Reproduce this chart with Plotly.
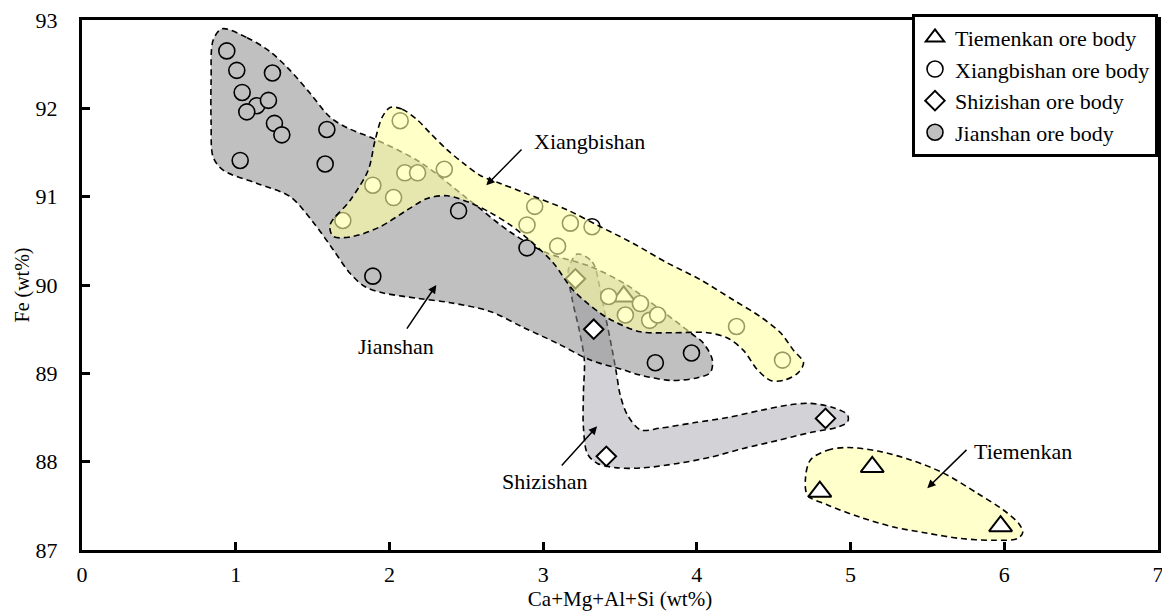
import plotly.graph_objects as go

# ---------------- data ----------------
tiemenkan_x = [3.524, 5.141, 4.800, 5.976]
tiemenkan_y = [89.87, 87.94, 87.66, 87.27]

xiangbishan_x = [2.070, 1.892, 2.027, 1.697, 2.100, 2.183, 2.357, 2.945, 2.895, 3.177,
                 3.318, 3.094, 3.426, 3.633, 3.535, 3.693, 3.745, 4.258, 4.557]
xiangbishan_y = [91.86, 91.13, 90.99, 90.73, 91.27, 91.27, 91.31, 90.89, 90.68, 90.70,
                 90.66, 90.44, 89.87, 89.79, 89.66, 89.60, 89.66, 89.53, 89.15]

shizishan_x = [3.210, 3.329, 4.837, 3.411]
shizishan_y = [90.07, 89.50, 88.49, 88.06]

jianshan_x = [0.942, 1.007, 1.239, 1.042, 1.137, 1.213, 1.072, 1.252, 1.300, 1.593,
              1.029, 1.582, 2.450, 1.892, 2.895, 3.730, 3.965]
jianshan_y = [92.65, 92.43, 92.40, 92.18, 92.03, 92.09, 91.96, 91.83, 91.70, 91.76,
              91.41, 91.37, 90.84, 90.10, 90.42, 89.12, 89.23]

# field outlines (data coordinates)
jianshan_field_x = [0.911, 1.074, 1.224, 1.354, 1.484, 1.614, 1.725, 1.907, 2.200, 2.506,
                    2.786, 3.014, 3.307, 3.535, 3.763, 3.958, 4.043, 4.101, 4.088, 4.004,
                    3.828, 3.633, 3.522, 3.307, 3.092, 2.871, 2.656, 2.396, 2.181, 1.960,
                    1.842, 1.745, 1.634, 1.504, 1.354, 1.139, 0.918, 0.853, 0.840, 0.840,
                    0.853]
jianshan_field_y = [92.90, 92.80, 92.64, 92.43, 92.17, 91.90, 91.78, 91.65, 91.39, 90.98,
                    90.60, 90.37, 90.21, 90.01, 89.72, 89.46, 89.34, 89.15, 89.01, 88.95,
                    88.92, 88.98, 89.04, 89.15, 89.34, 89.52, 89.70, 89.80, 89.85, 89.91,
                    89.98, 90.13, 90.40, 90.71, 91.00, 91.15, 91.30, 91.45, 91.83, 92.32,
                    92.77]

xiangbishan_field_x = [2.005, 2.083, 2.181, 2.265, 2.376, 2.480, 2.591, 2.721, 2.884, 3.157,
                       3.372, 3.587, 3.808, 4.023, 4.238, 4.414, 4.544, 4.629, 4.694, 4.655,
                       4.564, 4.479, 4.394, 4.303, 4.199, 4.069, 3.847, 3.633, 3.470, 3.372,
                       3.196, 3.066, 2.936, 2.786, 2.656, 2.526, 2.376, 2.246, 2.116, 1.940,
                       1.764, 1.634, 1.614, 1.745, 1.862, 1.907, 1.953]
xiangbishan_field_y = [92.01, 91.99, 91.87, 91.72, 91.53, 91.38, 91.24, 91.15, 91.04, 90.85,
                       90.66, 90.47, 90.25, 90.06, 89.83, 89.64, 89.46, 89.26, 89.12, 89.00,
                       88.92, 88.92, 89.04, 89.26, 89.40, 89.46, 89.46, 89.47, 89.58, 89.68,
                       89.94, 90.25, 90.47, 90.68, 90.82, 90.93, 91.01, 90.98, 90.85, 90.66,
                       90.55, 90.55, 90.68, 90.96, 91.30, 91.64, 91.90]

shizishan_field_x = [3.222, 3.320, 3.372, 3.411, 3.450, 3.476, 3.502, 3.548, 3.633, 3.763,
                     3.978, 4.199, 4.414, 4.590, 4.739, 4.889, 4.980, 4.980, 4.915, 4.739,
                     4.525, 4.303, 4.088, 3.874, 3.652, 3.483, 3.353, 3.288, 3.262, 3.262,
                     3.268, 3.236, 3.190, 3.164]
shizishan_field_y = [90.35, 90.26, 89.94, 89.60, 89.26, 89.01, 88.75, 88.53, 88.36, 88.38,
                     88.44, 88.50, 88.58, 88.64, 88.66, 88.61, 88.53, 88.45, 88.39, 88.33,
                     88.24, 88.15, 88.05, 87.98, 87.93, 87.93, 87.98, 88.09, 88.39, 88.78,
                     89.15, 89.48, 89.83, 90.17]

tiemenkan_field_x = [4.739, 4.850, 4.980, 5.176, 5.391, 5.605, 5.827, 5.996, 6.094, 6.120,
                     6.087, 5.931, 5.716, 5.501, 5.280, 5.065, 4.850, 4.720, 4.707]
tiemenkan_field_y = [88.02, 88.13, 88.16, 88.12, 88.02, 87.87, 87.64, 87.45, 87.30, 87.20,
                     87.13, 87.11, 87.13, 87.19, 87.26, 87.37, 87.51, 87.62, 87.82]

legend_names = ["Tiemenkan ore body", "Xiangbishan ore body",
                "Shizishan ore body", "Jianshan ore body"]

# labels: (text, text_x, text_y, tail_x, tail_y, tip_x, tip_y)
labels = [
    ("Xiangbishan", 3.30, 91.62, 2.869, 91.55, 2.630, 91.13),
    ("Jianshan", 2.044, 89.30, 2.107, 89.49, 2.305, 90.00),
    ("Shizishan", 3.014, 87.77, 3.112, 87.94, 3.351, 88.40),
    ("Tiemenkan", 6.120, 88.11, 5.764, 88.15, 5.499, 87.70),
]

SERIF = "Liberation Serif, Times New Roman, serif"
DASH = "6px,4px"

fig = go.Figure()


def field(xs, ys, fill):
    fig.add_trace(go.Scatter(
        x=xs + xs[:1], y=ys + ys[:1], mode="lines",
        line=dict(color="black", width=1.6, dash=DASH, shape="spline", smoothing=0.9),
        fill="toself", fillcolor=fill, showlegend=False, hoverinfo="skip"))


field(shizishan_field_x, shizishan_field_y, "rgb(211,211,215)")
field(jianshan_field_x, jianshan_field_y, "rgba(140,140,140,0.55)")
field(tiemenkan_field_x, tiemenkan_field_y, "rgb(255,255,204)")

fig.add_trace(go.Scatter(
    x=tiemenkan_x, y=tiemenkan_y, mode="markers", name=legend_names[0],
    marker=dict(symbol="triangle-up", size=20, color="white",
                line=dict(color="black", width=2))))
fig.add_trace(go.Scatter(
    x=xiangbishan_x, y=xiangbishan_y, mode="markers", name=legend_names[1],
    marker=dict(symbol="circle", size=16, color="white",
                line=dict(color="black", width=1.6))))
fig.add_trace(go.Scatter(
    x=shizishan_x, y=shizishan_y, mode="markers", name=legend_names[2],
    marker=dict(symbol="diamond", size=15, color="white",
                line=dict(color="black", width=2))))
fig.add_trace(go.Scatter(
    x=jianshan_x, y=jianshan_y, mode="markers", name=legend_names[3],
    marker=dict(symbol="circle", size=16, color="rgb(192,192,192)",
                line=dict(color="black", width=1.6))))

# Xiangbishan field drawn on top (semi-transparent, as in the reference)
field(xiangbishan_field_x, xiangbishan_field_y, "rgba(255,255,163,0.6)")

for text, tx, ty, ax_, ay_, px_, py_ in labels:
    fig.add_annotation(x=px_, y=py_, ax=ax_, ay=ay_, axref="x", ayref="y",
                       xref="x", yref="y", text="", showarrow=True,
                       arrowhead=2, arrowsize=1.1, arrowwidth=1.5, arrowcolor="black")
    fig.add_annotation(x=tx, y=ty, xref="x", yref="y", text=text, showarrow=False,
                       font=dict(family=SERIF, size=22, color="black"))

axis_common = dict(showgrid=False, zeroline=False, showline=True, linewidth=3,
                   linecolor="black", mirror=True, ticks="inside", ticklen=8,
                   tickwidth=3, tickcolor="black", automargin=False,
                   ticklabeloverflow="allow",
                   tickfont=dict(family=SERIF, size=22, color="black"))

fig.update_xaxes(range=[0, 7], dtick=1, tick0=0, ticklabelstandoff=3,
                 title=dict(text="Ca+Mg+Al+Si (wt%)", standoff=4,
                            font=dict(family=SERIF, size=21, color="black")),
                 **axis_common)
fig.update_yaxes(range=[87, 93], dtick=1, tick0=87, ticklabelstandoff=17,
                 title=dict(text="Fe (wt%)", standoff=1,
                            font=dict(family=SERIF, size=20, color="black")),
                 **axis_common)

fig.update_layout(
    width=1162, height=615,
    margin=dict(l=82, r=4, t=20, b=65),
    plot_bgcolor="white", paper_bgcolor="white",
    legend=dict(x=1, y=1.012, xanchor="right", yanchor="top",
                bgcolor="white", bordercolor="black", borderwidth=3,
                font=dict(family=SERIF, size=22, color="black"),
                tracegroupgap=0),
)

fig.write_html("out.html", config={"displayModeBar": False},
               post_script="document.body.style.margin='0';"
                           "document.body.style.overflow='hidden';")
